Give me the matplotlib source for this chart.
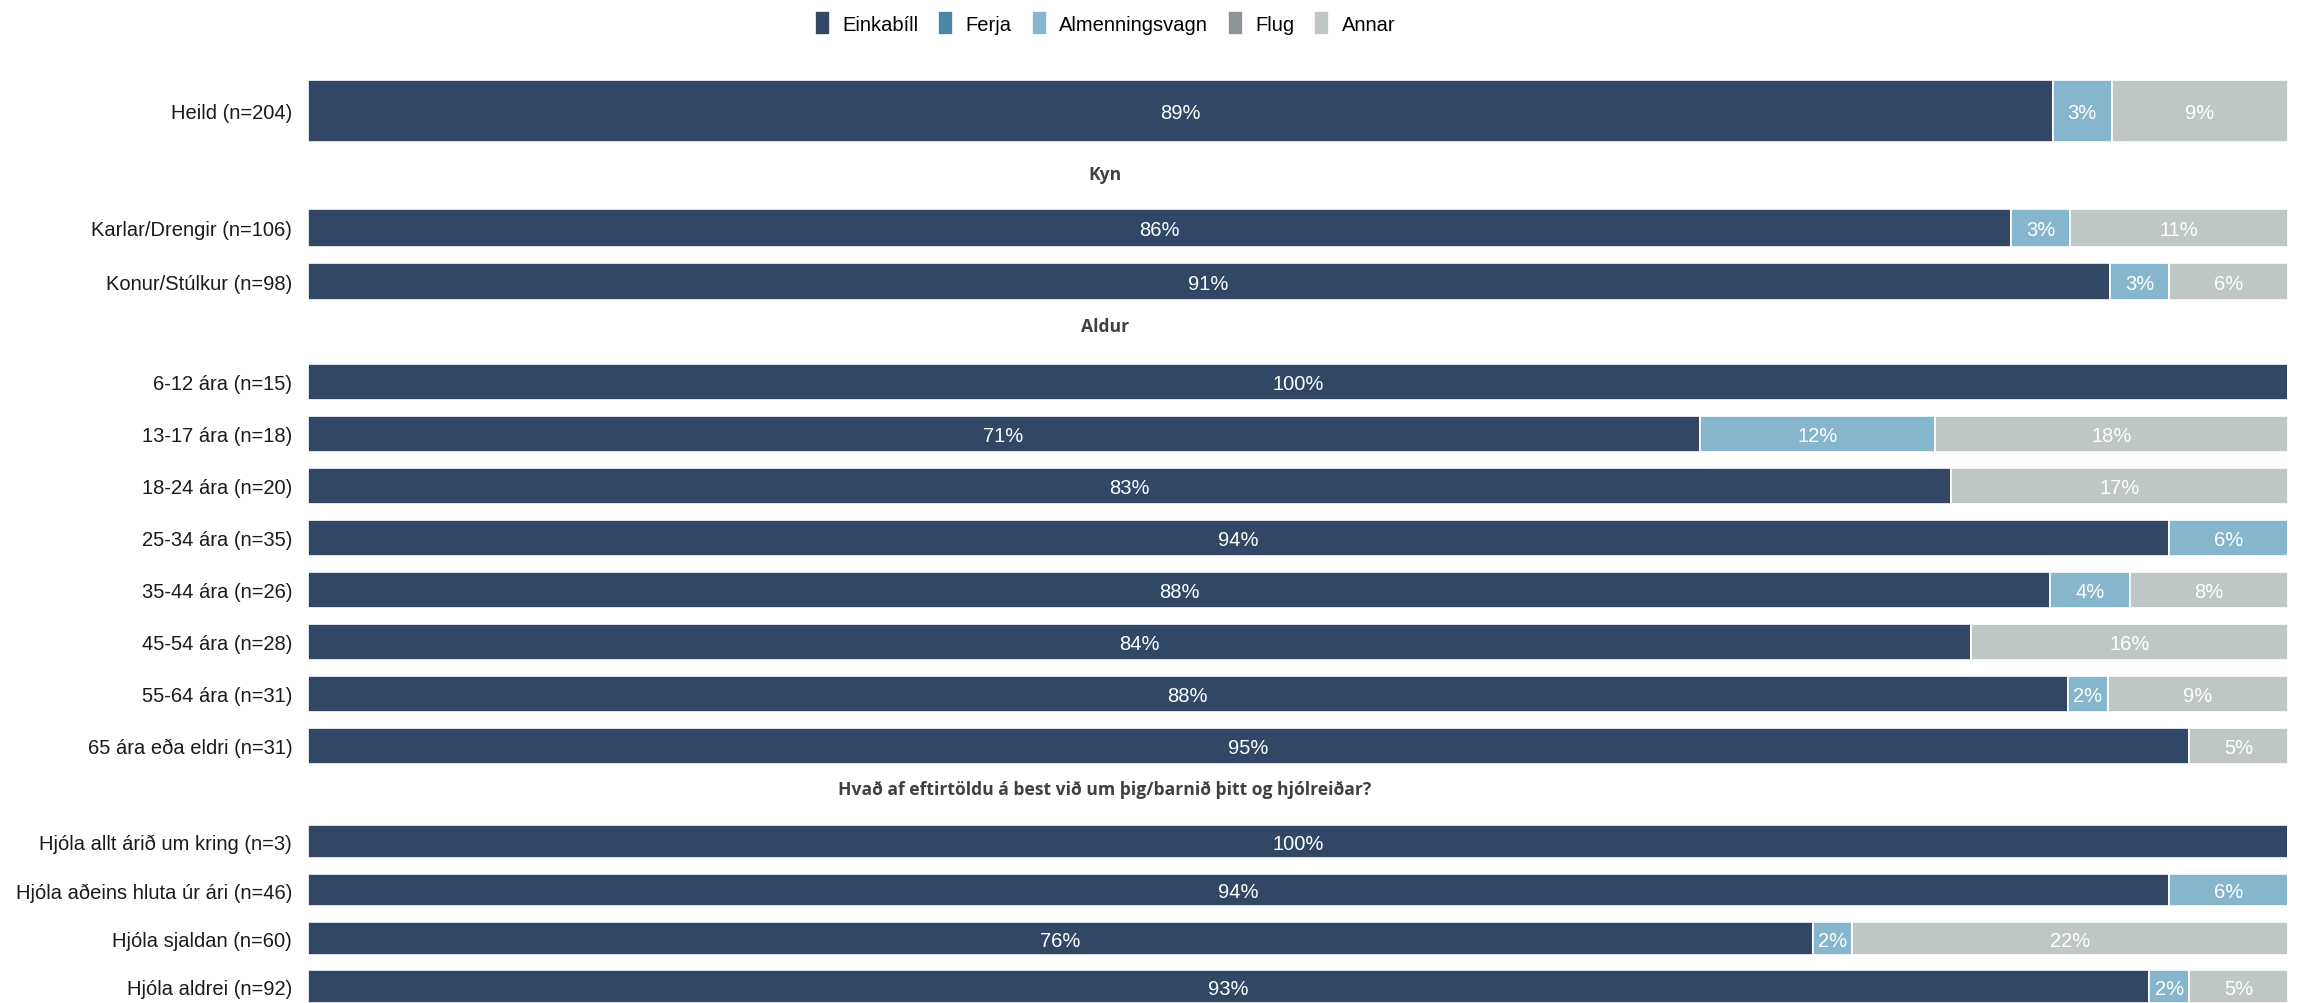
import numpy as np
import matplotlib
matplotlib.use('Agg')
import matplotlib.pyplot as plt

plt.rcParams['font.family'] = ['Liberation Sans', 'DejaVu Sans']

# ferðamáti og litir
modes = ['Einkabíll', 'Ferja', 'Almenningsvagn', 'Flug', 'Annar']
colors = ['#324766', '#4a87a3', '#86b6cd', '#8f9597', '#bec6c6']

# hlutfall svarenda (%) í röðinni Einkabíll, Ferja, Almenningsvagn, Flug, Annar
heild_labels = ['Heild (n=204)']
heild_vals = [[89, 0, 3, 0, 9]]

kyn_labels = ['Karlar/Drengir (n=106)', 'Konur/Stúlkur (n=98)']
kyn_vals = [[86, 0, 3, 0, 11],
            [91, 0, 3, 0, 6]]

aldur_labels = ['6-12 ára (n=15)', '13-17 ára (n=18)', '18-24 ára (n=20)',
                '25-34 ára (n=35)', '35-44 ára (n=26)', '45-54 ára (n=28)',
                '55-64 ára (n=31)', '65 ára eða eldri (n=31)']
aldur_vals = [[100, 0, 0, 0, 0],
              [71, 0, 12, 0, 18],
              [83, 0, 0, 0, 17],
              [94, 0, 6, 0, 0],
              [88, 0, 4, 0, 8],
              [84, 0, 0, 0, 16],
              [88, 0, 2, 0, 9],
              [95, 0, 0, 0, 5]]

hjol_labels = ['Hjóla allt árið um kring (n=3)', 'Hjóla aðeins hluta úr ári (n=46)',
               'Hjóla sjaldan (n=60)', 'Hjóla aldrei (n=92)']
hjol_vals = [[100, 0, 0, 0, 0],
             [94, 0, 6, 0, 0],
             [76, 0, 2, 0, 22],
             [93, 0, 2, 0, 5]]

W, H = 2300, 1004
X0, X1 = 307.5, 2288
TITLE_X = 1105

fig = plt.figure(figsize=(W / 100, H / 100), dpi=100)


def draw_group(labels, vals, first_y, pitch, frac):
    n = len(labels)
    top = first_y - pitch / 2
    bottom = first_y + (n - 1) * pitch + pitch / 2
    ax = fig.add_axes([X0 / W, 1 - bottom / H, (X1 - X0) / W, (bottom - top) / H])
    vals = np.array(vals, dtype=float)
    shares = vals / vals.sum(axis=1, keepdims=True) * 100
    y = np.arange(n)
    left = np.zeros(n)
    for j, mode in enumerate(modes):
        ax.barh(y, shares[:, j], left=left, height=frac, color=colors[j],
                edgecolor='white', linewidth=1.2, label=mode)
        for i in range(n):
            if vals[i, j] > 0:
                ax.text(left[i] + shares[i, j] / 2, y[i], f'{vals[i, j]:.0f}%',
                        ha='center', va='center_baseline', color='white', fontsize=14.5)
        left += shares[:, j]
    ax.set_xlim(0, 100)
    ax.set_ylim(n - 0.5, -0.5)
    ax.set_yticks(y, labels)
    ax.set_xticks([])
    ax.tick_params(axis='y', length=0, pad=11, labelsize=14.5, labelcolor='#1a1a1a')
    for s in ax.spines.values():
        s.set_visible(False)
    return ax


ax0 = draw_group(heild_labels, heild_vals, 111.7, 90, 0.69)
draw_group(kyn_labels, kyn_vals, 228.8, 53.8, 0.70)
draw_group(aldur_labels, aldur_vals, 382.7, 52.0, 0.69)
draw_group(hjol_labels, hjol_vals, 842.8, 48.2, 0.68)

# fyrirsagnir hópa
for txt, ypx in [('Kyn', 175), ('Aldur', 327),
                 ('Hvað af eftirtöldu á best við um þig/barnið þitt og hjólreiðar?', 790)]:
    fig.text(TITLE_X / W, 1 - ypx / H, txt, ha='center', va='center',
             fontsize=12.6, fontweight='bold', color='#404040', family=['Open Sans', 'DejaVu Sans'])

handles, lbls = ax0.get_legend_handles_labels()
fig.legend(handles, lbls, loc='center', bbox_to_anchor=(TITLE_X / W, 1 - 24 / H),
           ncol=5, frameon=False, fontsize=14.5, handlelength=0.75, handleheight=1.45,
           handletextpad=0.6, columnspacing=1.0)

fig.savefig('out.png', dpi=100)
